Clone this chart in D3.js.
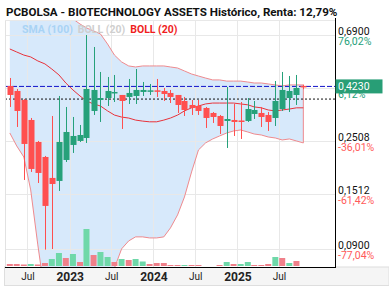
<!DOCTYPE html>
<html>
<head>
<meta charset="utf-8">
<script src="https://cdn.jsdelivr.net/npm/d3@7"></script>
<style>
  body { margin: 0; background: #fff; }
  svg { display: block; font-family: Roboto, "Noto Sans", sans-serif; }
</style>
</head>
<body>
<div id="chart"></div>
<script>
const width = 389;
const height = 290;
const plotLeft = 5, plotRight = 335, plotTop = 20, plotBottom = 267;

const title = "PCBOLSA - BIOTECHNOLOGY ASSETS Histórico, Renta: 12,79%";

// monthly candles, Apr 2022 .. Oct 2025
const months = ["2022-04","2022-05","2022-06","2022-07","2022-08","2022-09","2022-10","2022-11","2022-12",
                "2023-01","2023-02","2023-03","2023-04","2023-05","2023-06","2023-07","2023-08","2023-09","2023-10","2023-11","2023-12",
                "2024-01","2024-02","2024-03","2024-04","2024-05","2024-06","2024-07","2024-08","2024-09","2024-10","2024-11","2024-12",
                "2025-01","2025-02","2025-03","2025-04","2025-05","2025-06","2025-07","2025-08","2025-09","2025-10"];
const open  = [0.4247,0.4050,0.3717,0.3073,0.2493,0.2161,0.1770,0.1720,0.2100,0.2423,0.2517,0.2589,0.3348,0.3717,0.3788,0.3974,0.3899,0.3826,0.3862,0.4012,0.4060,0.4075,
               0.4050,0.3974,0.3899,0.3682,0.3545,0.3511,0.3445,0.3285,0.3192,0.3044,0.3073,0.3058,0.3044,0.3254,0.3285,0.3223,0.3132,0.3412,0.3788,0.3899,0.4250];
const high  = [0.4583,0.4128,0.3753,0.3132,0.2517,0.2182,0.3192,0.3862,0.3478,0.3162,0.2930,0.6900,0.6156,0.4853,0.4627,0.4716,0.3899,0.4540,0.4993,0.4412,0.4329,0.4540,
               0.4167,0.4089,0.3899,0.3826,0.3717,0.3717,0.3478,0.3316,0.3223,0.4207,0.3578,0.3647,0.3788,0.3682,0.3478,0.3316,0.4454,0.4853,0.4671,0.4716,0.4300];
const low   = [0.3478,0.2875,0.1736,0.1874,0.1687,0.0895,0.0900,0.1564,0.2060,0.2245,0.2493,0.2469,0.3223,0.3015,0.3511,0.3647,0.2821,0.3578,0.3578,0.3862,0.3899,0.3826,
               0.3682,0.3612,0.3285,0.3192,0.3223,0.3223,0.2848,0.2987,0.2689,0.2354,0.2639,0.2565,0.3015,0.3102,0.2875,0.2768,0.2902,0.3348,0.3316,0.3545,0.4120];
const close = [0.3899,0.3348,0.2446,0.1928,0.1856,0.1356,0.1671,0.2493,0.2741,0.2639,0.2664,0.4128,0.4089,0.3788,0.4050,0.4012,0.3682,0.3974,0.4089,0.4089,0.4075,0.4050,
               0.3936,0.3826,0.3545,0.3380,0.3445,0.3348,0.3132,0.3162,0.2902,0.3102,0.3015,0.3030,0.3412,0.3380,0.3162,0.3015,0.3682,0.4089,0.4050,0.4167,0.4230];
// volume (thousands) and its bar colour (1 = up, 0 = down)
const volume = [2,2,1.5,2,1.5,3,7,13,8,12,4,37,11,14,9,4,7,6,7,4.5,2,3,3,1,1,1,1,1,0,0,1,4,2,2,4,1,1,2,9,8,3,5,0];
const volumeUp = [0,0,0,1,0,0,1,1,0,1,0,1,0,1,1,0,1,0,1,1,0,0,0,0,0,1,0,0,0,0,0,1,0,1,1,0,0,0,1,0,1,0,0];

// Bollinger (20)
const bollUpper = [1.110,1.143,1.164,1.164,1.143,1.090,1.010,0.927,0.859,0.804,0.766,0.738,0.717,0.697,0.633,0.570,0.534,0.514,0.509,0.514,0.514,0.514,
                   0.514,0.509,0.504,0.490,0.476,0.467,0.458,0.450,0.450,0.445,0.445,0.445,0.441,0.437,0.437,0.433,0.429,0.425,0.429,0.429,0.429];
const bollMid   = [0.604,0.587,0.570,0.560,0.539,0.524,0.499,0.472,0.437,0.409,0.386,0.368,0.358,0.351,0.335,0.322,0.316,0.313,0.307,0.304,0.302,0.302,
                   0.307,0.313,0.322,0.335,0.345,0.351,0.358,0.361,0.361,0.361,0.361,0.358,0.355,0.348,0.345,0.338,0.335,0.338,0.341,0.345,0.345];
const bollLower = [0.2715,0.2400,0.2161,0.1579,0.0936,0.0582,0.0458,0.0398,0.0379,0.0386,0.0405,0.0437,0.0481,0.0554,0.0639,0.0751,0.0901,0.0972,0.1010,0.1010,0.1000,0.1000,
                   0.1010,0.1100,0.1245,0.1477,0.1874,0.2310,0.2470,0.2565,0.2639,0.2715,0.2768,0.2794,0.2741,0.2689,0.2664,0.2614,0.2589,0.2541,0.2565,0.2517,0.2470];

const lastPrice = 0.4230;
const startPrice = 0.3750;

const priceTicks = [0.6900, 0.4160, 0.2508, 0.1512, 0.0900];
const priceTickLabels = ["0,6900", "0,4160", "0,2508", "0,1512", "0,0900"];
const pctTickLabels = ["76,02%", "6,12%", "-36,01%", "-61,42%", "-77,04%"];

const timeTicks = ["2022-07-01","2023-01-01","2023-07-01","2024-01-01","2024-07-01","2025-01-01","2025-07-01"];
const timeTickLabels = ["Jul","2023","Jul","2024","Jul","2025","Jul"];

const legendItems = [["SMA (100)", "#a9d3f5"], ["BOLL (20)", "#cfcfcf"], ["BOLL (20)", "#f01e1e"]];

const green = "#26a17a", red = "#ff4f4f";

const parseMonth = d3.timeParse("%Y-%m");
const parseDay = d3.timeParse("%Y-%m-%d");
const dates = months.map(m => { const d = parseMonth(m); d.setDate(15); return d; });

const candles = months.map((m, i) => ({
  date: dates[i], o: open[i], h: high[i], l: low[i], c: close[i],
  v: volume[i], vUp: volumeUp[i], up: bollUpper[i], mid: bollMid[i], lo: bollLower[i]
}));

const x = d3.scaleTime()
  .domain([new Date(2022, 2, 25), new Date(2026, 2, 2)])
  .range([plotLeft, plotRight]);
const y = d3.scaleLog()
  .domain([0.09, 0.69])
  .range([249, 35]);
const yVol = d3.scaleLinear()
  .domain([0, 40])
  .range([266, 226]);

const svg = d3.select("#chart").append("svg")
  .attr("width", width)
  .attr("height", height);

svg.append("defs").append("clipPath").attr("id", "plot-clip")
  .append("rect")
  .attr("x", plotLeft).attr("y", plotTop)
  .attr("width", plotRight - plotLeft).attr("height", plotBottom - plotTop);

// bottom band under the axis
svg.append("rect")
  .attr("x", 4.5).attr("y", plotBottom)
  .attr("width", width - 4.5).attr("height", 18.5)
  .attr("fill", "#f5f5f5").attr("stroke", "#dedede");

svg.append("rect")
  .attr("x", plotLeft).attr("y", plotTop)
  .attr("width", plotRight - plotLeft).attr("height", plotBottom - plotTop)
  .attr("fill", "#fff");

const plot = svg.append("g").attr("clip-path", "url(#plot-clip)");

// bollinger fill
plot.append("path")
  .datum(candles)
  .attr("fill", "#d7e9fb")
  .attr("d", d3.area().x(d => x(d.date)).y0(d => y(d.lo)).y1(d => y(d.up)));

// grid
plot.append("g").selectAll("line")
  .data(timeTicks.map(parseDay))
  .join("line")
  .attr("x1", d => Math.round(x(d)) + 0.5).attr("x2", d => Math.round(x(d)) + 0.5)
  .attr("y1", plotTop).attr("y2", plotBottom)
  .attr("stroke", "#e8e8e8");
plot.append("g").selectAll("line")
  .data(priceTicks)
  .join("line")
  .attr("x1", plotLeft).attr("x2", plotRight)
  .attr("y1", d => Math.round(y(d)) + 0.5).attr("y2", d => Math.round(y(d)) + 0.5)
  .attr("stroke", "#e8e8e8");

// band outline: upper left->right, then lower right->left (right edge drawn, left open)
const outline = candles.map(d => [x(d.date), y(d.up)])
  .concat(candles.slice().reverse().map(d => [x(d.date), y(d.lo)]));
plot.append("path")
  .attr("fill", "none")
  .attr("stroke", "#ef8a8e")
  .attr("stroke-width", 1)
  .attr("d", d3.line()(outline));

plot.append("path")
  .datum(candles)
  .attr("fill", "none")
  .attr("stroke", "#e8333b")
  .attr("stroke-width", 1)
  .attr("d", d3.line().x(d => x(d.date)).y(d => y(d.mid)));

// volume
plot.append("g").selectAll("rect")
  .data(candles)
  .join("rect")
  .attr("x", d => x(d.date) - 3)
  .attr("y", d => yVol(d.v))
  .attr("width", 6)
  .attr("height", d => yVol(0) - yVol(d.v))
  .attr("fill", d => d.vUp ? "#6fd8a9" : "#f0808a");

// reference lines
plot.append("line")
  .attr("x1", plotLeft).attr("x2", plotRight)
  .attr("y1", y(startPrice)).attr("y2", y(startPrice))
  .attr("stroke", "#111").attr("stroke-dasharray", "2,2");
plot.append("line")
  .attr("x1", plotLeft).attr("x2", plotRight)
  .attr("y1", y(lastPrice)).attr("y2", y(lastPrice))
  .attr("stroke", "#1212c8").attr("stroke-dasharray", "5,2");

// candles
const cg = plot.append("g").selectAll("g")
  .data(candles)
  .join("g");
cg.append("line")
  .attr("x1", d => Math.round(x(d.date)) + 0.5).attr("x2", d => Math.round(x(d.date)) + 0.5)
  .attr("y1", d => y(d.h)).attr("y2", d => y(d.l))
  .attr("stroke", d => d.c >= d.o ? green : red);
cg.append("rect")
  .attr("x", d => Math.round(x(d.date)) - 2.5)
  .attr("width", 6)
  .attr("y", d => y(Math.max(d.o, d.c)))
  .attr("height", d => Math.max(1.5, y(Math.min(d.o, d.c)) - y(Math.max(d.o, d.c))))
  .attr("fill", d => d.c >= d.o ? green : red);

// frame lines
svg.append("line").attr("x1", plotLeft + 0.5).attr("x2", plotLeft + 0.5)
  .attr("y1", plotTop).attr("y2", plotBottom).attr("stroke", "#e2e2e2");
svg.append("line").attr("x1", plotLeft).attr("x2", plotRight)
  .attr("y1", plotTop + 0.5).attr("y2", plotTop + 0.5).attr("stroke", "#e8e8e8");
svg.append("line").attr("x1", plotRight + 0.5).attr("x2", plotRight + 0.5)
  .attr("y1", plotTop - 2).attr("y2", plotBottom + 1).attr("stroke", "#000");
svg.append("line").attr("x1", plotLeft).attr("x2", plotRight + 1)
  .attr("y1", plotBottom + 0.5).attr("y2", plotBottom + 0.5).attr("stroke", "#000");

// x axis labels
const xAxis = d3.axisBottom(x)
  .tickValues(timeTicks.map(parseDay))
  .tickSize(0)
  .tickPadding(0)
  .tickFormat((d, i) => timeTickLabels[i]);
const gx = svg.append("g")
  .attr("transform", "translate(0," + 272 + ")")
  .call(xAxis);
gx.select(".domain").remove();
gx.selectAll("text")
  .attr("dy", "0.71em")
  .attr("fill", "#222")
  .style("font-family", "Roboto, sans-serif")
  .style("font-size", d => d.getMonth() === 0 ? "12px" : "10px")
  .style("font-weight", d => d.getMonth() === 0 ? "bold" : "normal")
  .attr("y", d => d.getMonth() === 0 ? 0 : 1);

// right price labels
const pl = svg.append("g").selectAll("g")
  .data(priceTicks)
  .join("g")
  .attr("transform", d => "translate(338," + Math.round(y(d)) + ")");
pl.append("text")
  .attr("y", 0)
  .attr("font-size", "10.5px")
  .attr("fill", "#111")
  .text((d, i) => priceTickLabels[i]);
pl.append("text")
  .attr("y", 10)
  .attr("font-size", "10.5px")
  .attr("fill", (d, i) => pctTickLabels[i].startsWith("-") ? "#ff5a5a" : green)
  .text((d, i) => pctTickLabels[i]);

// last price box
svg.append("rect")
  .attr("x", plotRight + 0.5).attr("y", y(lastPrice) - 7)
  .attr("width", 47).attr("height", 14)
  .attr("fill", "#289e76");
svg.append("text")
  .attr("x", 338).attr("y", y(lastPrice) + 4)
  .attr("font-size", "10.5px")
  .attr("fill", "#fff")
  .text(d3.format(".4f")(lastPrice).replace(".", ","));

// title and legend
svg.append("text")
  .attr("x", 6).attr("y", 16)
  .attr("font-size", "11.6px")
  .attr("font-weight", "bold")
  .attr("fill", "#111")
  .text(title);

let lx = 22;
legendItems.forEach(([label, color]) => {
  const t = svg.append("text")
    .attr("x", lx).attr("y", 33)
    .attr("font-size", "10.5px")
    .attr("font-weight", "bold")
    .attr("fill", color)
    .text(label);
  lx += t.node().getComputedTextLength() + 5;
});
</script>
</body>
</html>
